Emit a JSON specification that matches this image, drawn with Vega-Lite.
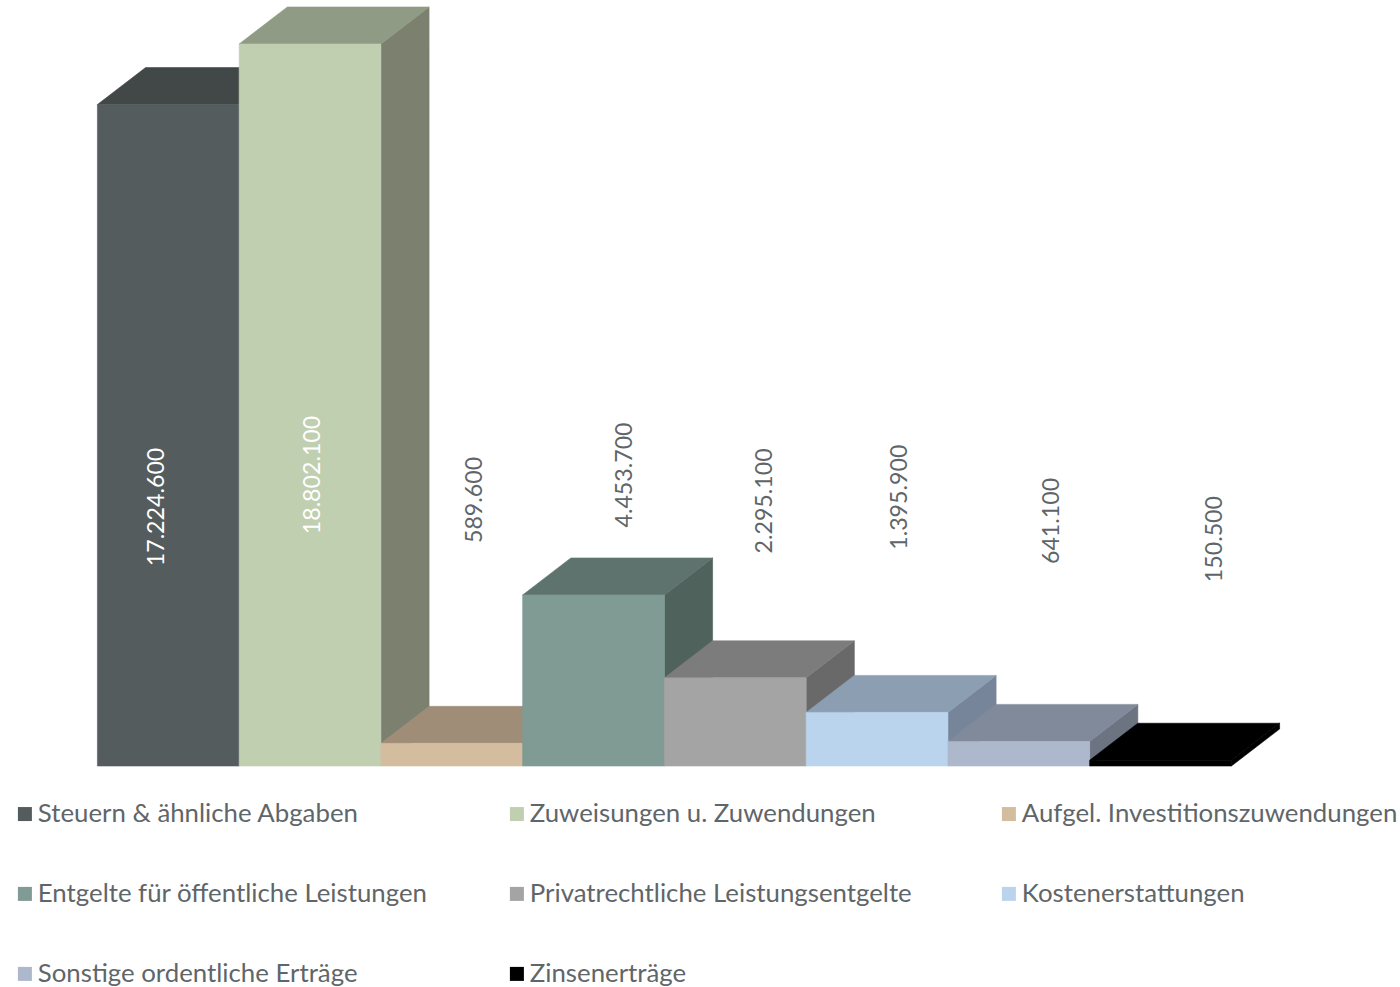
{
"$schema":"https://vega.github.io/schema/vega-lite/v6.json",
"width":1400,"height":987,"padding":0,"autosize":{"type":"none"},"background":"white",
"config":{"view":{"stroke":null},"text":{"font":"Lato"}},
"data":{"values":[
{"category":"Steuern & ähnliche Abgaben","amount":17224600,"label":"17.224.600"},
{"category":"Zuweisungen u. Zuwendungen","amount":18802100,"label":"18.802.100"},
{"category":"Aufgel. Investitionszuwendungen","amount":589600,"label":"589.600"},
{"category":"Entgelte für öffentliche Leistungen","amount":4453700,"label":"4.453.700"},
{"category":"Privatrechtliche Leistungsentgelte","amount":2295100,"label":"2.295.100"},
{"category":"Kostenerstattungen","amount":1395900,"label":"1.395.900"},
{"category":"Sonstige ordentliche Erträge","amount":641100,"label":"641.100"},
{"category":"Zinsenerträge","amount":150500,"label":"150.500"}
]},
"transform":[
{"window":[{"op":"row_number","as":"rank"}]},
{"calculate":"datum.rank-1","as":"left"},
{"calculate":"datum.rank","as":"right"},
{"calculate":"datum.rank-0.5","as":"center"},
{"calculate":"datum.amount/2","as":"mid"},
{"calculate":"0","as":"front"},
{"calculate":"1","as":"back"},
{"fold":["front","back"],"as":["face","depth"]},
{"calculate":"datum.depth*0.3400","as":"dx"},
{"calculate":"datum.depth*963542","as":"dy"},
{"calculate":"datum.left+datum.dx","as":"xa"},
{"calculate":"datum.right+datum.dx","as":"xb"},
{"calculate":"datum.amount+datum.dy","as":"ya"}
],
"encoding":{},
"resolve":{"scale":{"color":"independent","stroke":"independent"}},
"layer":[
{"mark":{"type":"area","opacity":1,"orient":"vertical","strokeWidth":0.6},
 "encoding":{
 "x":{"field":"xb","type":"quantitative","axis":null,"scale":{"domain":[-0.6871,9.1894],"nice":false,"zero":false}},
 "y":{"field":"dy","type":"quantitative","axis":null,"stack":null,"scale":{"domain":[-5755208,19947917],"nice":false,"zero":false}},
 "y2":{"field":"ya"},
 "color":{"field":"category","type":"nominal","legend":null,"scale":{"domain":["Steuern & ähnliche Abgaben","Zuweisungen u. Zuwendungen","Aufgel. Investitionszuwendungen","Entgelte für öffentliche Leistungen","Privatrechtliche Leistungsentgelte","Kostenerstattungen","Sonstige ordentliche Erträge","Zinsenerträge"],"range":["#353a3b","#7b816e","#867664","#50625c","#696969","#76859a","#6d7481","#000000"]}},
 "stroke":{"field":"category","type":"nominal","legend":null,"scale":{"domain":["Steuern & ähnliche Abgaben","Zuweisungen u. Zuwendungen","Aufgel. Investitionszuwendungen","Entgelte für öffentliche Leistungen","Privatrechtliche Leistungsentgelte","Kostenerstattungen","Sonstige ordentliche Erträge","Zinsenerträge"],"range":["#353a3b","#7b816e","#867664","#50625c","#696969","#76859a","#6d7481","#000000"]}}
 }},
{"mark":{"type":"area","opacity":1,"orient":"horizontal","strokeWidth":0.6},
 "encoding":{
 "y":{"field":"ya","type":"quantitative","axis":null,"scale":{"domain":[-5755208,19947917],"nice":false,"zero":false}},
 "x":{"field":"xa","type":"quantitative","axis":null,"stack":null,"scale":{"domain":[-0.6871,9.1894],"nice":false,"zero":false}},
 "x2":{"field":"xb"},
 "color":{"field":"category","type":"nominal","legend":null,"scale":{"domain":["Steuern & ähnliche Abgaben","Zuweisungen u. Zuwendungen","Aufgel. Investitionszuwendungen","Entgelte für öffentliche Leistungen","Privatrechtliche Leistungsentgelte","Kostenerstattungen","Sonstige ordentliche Erträge","Zinsenerträge"],"range":["#424847","#8f9b84","#a08d78","#5f736e","#7c7c7c","#8c9fb2","#818a9a","#000000"]}},
 "stroke":{"field":"category","type":"nominal","legend":null,"scale":{"domain":["Steuern & ähnliche Abgaben","Zuweisungen u. Zuwendungen","Aufgel. Investitionszuwendungen","Entgelte für öffentliche Leistungen","Privatrechtliche Leistungsentgelte","Kostenerstattungen","Sonstige ordentliche Erträge","Zinsenerträge"],"range":["#424847","#8f9b84","#a08d78","#5f736e","#7c7c7c","#8c9fb2","#818a9a","#000000"]}}
 }},
{"transform":[{"filter":"datum.face=='front'"}],
 "mark":{"type":"rect","opacity":1,"strokeWidth":0.6},
 "encoding":{
 "x":{"field":"left","type":"quantitative","axis":null,"scale":{"domain":[-0.6871,9.1894],"nice":false,"zero":false}},
 "x2":{"field":"right"},
 "y":{"field":"amount","type":"quantitative","axis":null,"scale":{"domain":[-5755208,19947917],"nice":false,"zero":false}},
 "y2":{"datum":0},
 "stroke":{"field":"category","type":"nominal","legend":null,"scale":{"domain":["Steuern & ähnliche Abgaben","Zuweisungen u. Zuwendungen","Aufgel. Investitionszuwendungen","Entgelte für öffentliche Leistungen","Privatrechtliche Leistungsentgelte","Kostenerstattungen","Sonstige ordentliche Erträge","Zinsenerträge"],"range":["#545c5e","#c1cfb1","#d4bc9f","#809a94","#a4a4a4","#bbd4ed","#adb8cd","#000000"]}},
 "color":{"field":"category","type":"nominal","scale":{"domain":["Steuern & ähnliche Abgaben","Zuweisungen u. Zuwendungen","Aufgel. Investitionszuwendungen","Entgelte für öffentliche Leistungen","Privatrechtliche Leistungsentgelte","Kostenerstattungen","Sonstige ordentliche Erträge","Zinsenerträge"],"range":["#545c5e","#c1cfb1","#d4bc9f","#809a94","#a4a4a4","#bbd4ed","#adb8cd","#000000"]},
 "legend":{"orient":"none","legendX":12,"legendY":801,"title":null,"columns":3,"direction":"horizontal","gridAlign":"all","symbolType":"square","symbolSize":196,"symbolStrokeWidth":0,"labelFont":"Lato","labelFontSize":25.8,"labelColor":"#5f6669","labelLimit":600,"labelOffset":0,"columnPadding":76,"rowPadding":53,"padding":0,"values":["Steuern & ähnliche Abgaben","Zuweisungen u. Zuwendungen","Aufgel. Investitionszuwendungen","Entgelte für öffentliche Leistungen","Privatrechtliche Leistungsentgelte","Kostenerstattungen","Sonstige ordentliche Erträge","Zinsenerträge"]}}
 }},
{"transform":[{"filter":"datum.face=='front' && datum.rank==1"}],"mark":{"type":"text","angle":270,"fontSize":23.2,"color":"#ffffff","align":"center","baseline":"middle","dx":-71.7,"dy":-11},
 "encoding":{"x":{"field":"center","type":"quantitative","axis":null,"scale":{"domain":[-0.6871,9.1894],"nice":false,"zero":false}},"y":{"field":"mid","type":"quantitative","axis":null,"scale":{"domain":[-5755208,19947917],"nice":false,"zero":false}},"text":{"field":"label"}}},
{"transform":[{"filter":"datum.face=='front' && datum.rank==2"}],"mark":{"type":"text","angle":270,"fontSize":23.2,"color":"#ffffff","align":"center","baseline":"middle","dx":-70,"dy":2.5},
 "encoding":{"x":{"field":"center","type":"quantitative","axis":null,"scale":{"domain":[-0.6871,9.1894],"nice":false,"zero":false}},"y":{"field":"mid","type":"quantitative","axis":null,"scale":{"domain":[-5755208,19947917],"nice":false,"zero":false}},"text":{"field":"label"}}},
{"transform":[{"filter":"datum.face=='front' && datum.rank==3"}],"mark":{"type":"text","angle":270,"fontSize":23.2,"color":"#5f6669","align":"center","baseline":"middle","dx":254.7,"dy":23.6},
 "encoding":{"x":{"field":"center","type":"quantitative","axis":null,"scale":{"domain":[-0.6871,9.1894],"nice":false,"zero":false}},"y":{"field":"mid","type":"quantitative","axis":null,"scale":{"domain":[-5755208,19947917],"nice":false,"zero":false}},"text":{"field":"label"}}},
{"transform":[{"filter":"datum.face=='front' && datum.rank==4"}],"mark":{"type":"text","angle":270,"fontSize":23.2,"color":"#5f6669","align":"center","baseline":"middle","dx":205.5,"dy":31},
 "encoding":{"x":{"field":"center","type":"quantitative","axis":null,"scale":{"domain":[-0.6871,9.1894],"nice":false,"zero":false}},"y":{"field":"mid","type":"quantitative","axis":null,"scale":{"domain":[-5755208,19947917],"nice":false,"zero":false}},"text":{"field":"label"}}},
{"transform":[{"filter":"datum.face=='front' && datum.rank==5"}],"mark":{"type":"text","angle":270,"fontSize":23.2,"color":"#5f6669","align":"center","baseline":"middle","dx":221,"dy":30},
 "encoding":{"x":{"field":"center","type":"quantitative","axis":null,"scale":{"domain":[-0.6871,9.1894],"nice":false,"zero":false}},"y":{"field":"mid","type":"quantitative","axis":null,"scale":{"domain":[-5755208,19947917],"nice":false,"zero":false}},"text":{"field":"label"}}},
{"transform":[{"filter":"datum.face=='front' && datum.rank==6"}],"mark":{"type":"text","angle":270,"fontSize":23.2,"color":"#5f6669","align":"center","baseline":"middle","dx":242,"dy":23},
 "encoding":{"x":{"field":"center","type":"quantitative","axis":null,"scale":{"domain":[-0.6871,9.1894],"nice":false,"zero":false}},"y":{"field":"mid","type":"quantitative","axis":null,"scale":{"domain":[-5755208,19947917],"nice":false,"zero":false}},"text":{"field":"label"}}},
{"transform":[{"filter":"datum.face=='front' && datum.rank==7"}],"mark":{"type":"text","angle":270,"fontSize":23.2,"color":"#5f6669","align":"center","baseline":"middle","dx":232.7,"dy":33},
 "encoding":{"x":{"field":"center","type":"quantitative","axis":null,"scale":{"domain":[-0.6871,9.1894],"nice":false,"zero":false}},"y":{"field":"mid","type":"quantitative","axis":null,"scale":{"domain":[-5755208,19947917],"nice":false,"zero":false}},"text":{"field":"label"}}},
{"transform":[{"filter":"datum.face=='front' && datum.rank==8"}],"mark":{"type":"text","angle":270,"fontSize":23.2,"color":"#5f6669","align":"center","baseline":"middle","dx":224,"dy":54},
 "encoding":{"x":{"field":"center","type":"quantitative","axis":null,"scale":{"domain":[-0.6871,9.1894],"nice":false,"zero":false}},"y":{"field":"mid","type":"quantitative","axis":null,"scale":{"domain":[-5755208,19947917],"nice":false,"zero":false}},"text":{"field":"label"}}}
]
}
